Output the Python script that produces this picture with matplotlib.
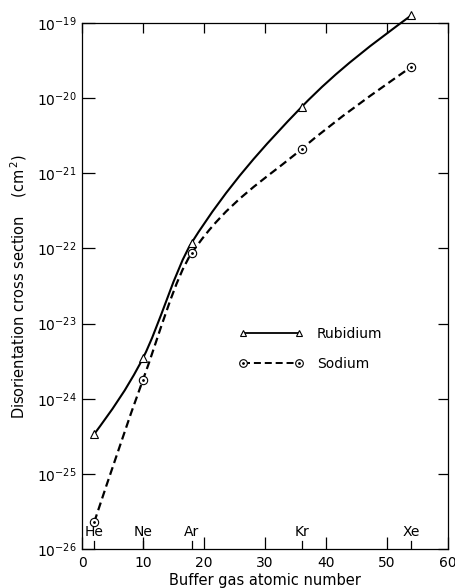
import numpy as np
import matplotlib
matplotlib.use("Agg")
import matplotlib.pyplot as plt
from matplotlib.path import Path
from matplotlib.patches import PathPatch
from matplotlib.lines import Line2D
from matplotlib.legend_handler import HandlerTuple

# buffer gases
elements = ["He", "Ne", "Ar", "Kr", "Xe"]
atomic_number = [2, 10, 18, 36, 54]

# disorientation cross sections (cm^2)
rubidium = [3.4e-25, 3.5e-24, 1.2e-22, 7.6e-21, 1.26e-19]
sodium = [2.3e-26, 1.8e-24, 8.7e-23, 2.1e-21, 2.6e-20]

plt.rcParams['font.family'] = ['DejaVu Sans']
plt.rcParams['mathtext.fontset'] = 'dejavusans'


def smooth_path(xs, ys):
    # cubic bezier through the points, smooth in log10(y)
    xs = np.asarray(xs, float)
    ly = np.log10(ys)
    n = len(xs)
    m = np.zeros(n)
    for i in range(1, n - 1):
        m[i] = (ly[i + 1] - ly[i - 1]) / (xs[i + 1] - xs[i - 1])
    s0 = (ly[1] - ly[0]) / (xs[1] - xs[0])
    s1 = (ly[-1] - ly[-2]) / (xs[-1] - xs[-2])
    m[0] = 1.5 * s0 - 0.5 * m[1]
    m[-1] = 1.5 * s1 - 0.5 * m[-2]
    verts = [(xs[0], 10 ** ly[0])]
    codes = [Path.MOVETO]
    for i in range(n - 1):
        h = xs[i + 1] - xs[i]
        verts.append((xs[i] + h / 3, 10 ** (ly[i] + m[i] * h / 3)))
        verts.append((xs[i + 1] - h / 3, 10 ** (ly[i + 1] - m[i + 1] * h / 3)))
        verts.append((xs[i + 1], 10 ** ly[i + 1]))
        codes += [Path.CURVE4] * 3
    return Path(verts, codes)


fig = plt.figure(figsize=(4.56, 5.88), dpi=100)
ax = fig.add_axes([0.18, 0.066, 0.802, 0.895])
ax.set_yscale('log')
ax.set_xlim(0, 60)
ax.set_ylim(1e-26, 1e-19)

dash = (0, (3.6, 2.0))
ax.add_patch(PathPatch(smooth_path(atomic_number, rubidium), fill=False,
                       edgecolor='black', lw=1.5, zorder=2, clip_on=False))
ax.add_patch(PathPatch(smooth_path(atomic_number, sodium), fill=False,
                       edgecolor='black', lw=1.6, linestyle=dash, zorder=2,
                       clip_on=False))

ax.plot(atomic_number, rubidium, linestyle='none', marker='^', ms=5.5,
        mfc='white', mec='black', mew=0.8, clip_on=False, zorder=3)
ax.plot(atomic_number, sodium, linestyle='none', marker='o', ms=6,
        mfc='white', mec='black', mew=0.8, clip_on=False, zorder=3)
ax.plot(atomic_number, sodium, linestyle='none', marker='.', ms=2,
        color='black', clip_on=False, zorder=4)

# legend
rb_h = Line2D([], [], color='black', lw=1.3, marker='^', ms=5,
              mfc='white', mec='black', mew=0.8)
na_h = Line2D([], [], color='black', lw=1.4, ls=dash, marker='o', ms=5.5,
              mfc='white', mec='black', mew=0.8)
na_dot = Line2D([], [], ls='none', marker='.', ms=2, color='black')
ax.legend([rb_h, (na_h, na_dot)], ["Rubidium", "Sodium"], numpoints=2,
          handler_map={tuple: HandlerTuple(ndivide=1)},
          loc='upper left', bbox_to_anchor=(0.41, 0.435), frameon=False,
          borderpad=0, handlelength=4.6, handletextpad=1.0,
          labelspacing=1.15, fontsize=10)

# axes ticks
ax.set_xticks([0, 10, 20, 30, 40, 50, 60])
ax.set_yticks([10.0 ** k for k in range(-26, -18)])
ax.yaxis.set_minor_locator(matplotlib.ticker.NullLocator())
ax.set_yticklabels([r'$10^{%d}$' % k for k in range(-26, -18)])
ax.tick_params(axis='both', which='major', direction='in', length=9,
               width=0.9, labelsize=10, top=True, right=True)
ax.tick_params(axis='x', which='major', pad=5)
ax.tick_params(axis='y', which='major', pad=4)
for t in ax.xaxis.get_major_ticks():
    t.tick2line.set_markersize(7)
for t in ax.yaxis.get_major_ticks():
    t.tick2line.set_markersize(7)

# element markers on the bottom axis
xt = ax.get_xaxis_transform()
for x, name in zip(atomic_number, elements):
    ax.plot([x, x], [0, 0.016], transform=xt, color='black', lw=0.9,
            zorder=5)
    ax.text(x, 0.019, name, transform=xt,
            ha='center', va='bottom', fontsize=10)

for sp in ax.spines.values():
    sp.set_linewidth(0.9)

ax.set_xlabel("Buffer gas atomic number", fontsize=10.5, labelpad=2)
ax.set_ylabel(r"Disorientation cross section    (cm$^{\,2}$)", fontsize=10.5,
              labelpad=6)

fig.savefig("out.png", dpi=100)
